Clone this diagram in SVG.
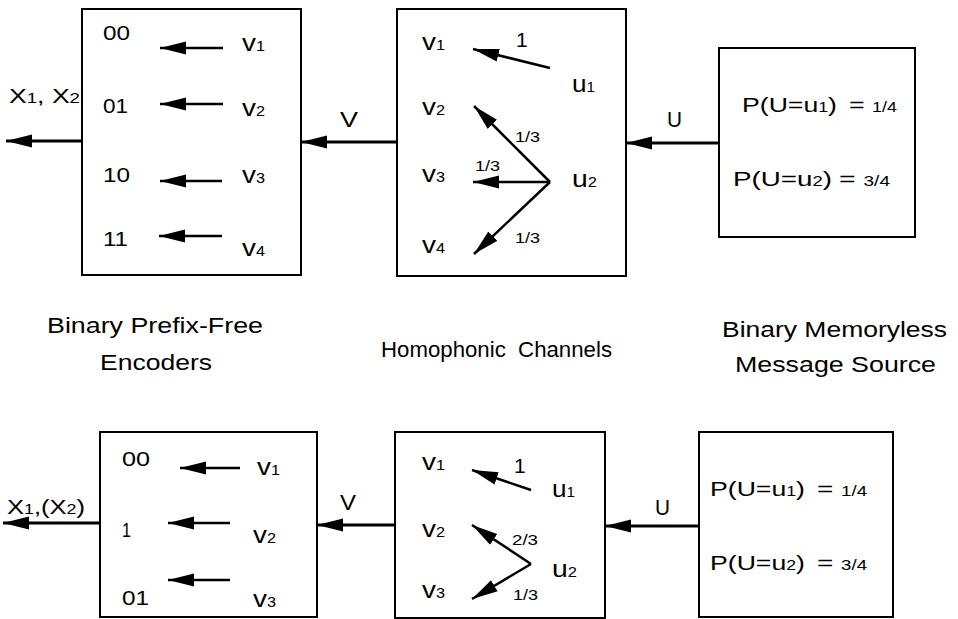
<svg xmlns="http://www.w3.org/2000/svg" width="958" height="619" viewBox="0 0 958 619">
<style>
.box{fill:#fff;stroke:#000;stroke-width:2}
.ar{stroke:#000;stroke-width:2.5;fill:none;marker-end:url(#ah)}
.cn{stroke:#000;stroke-width:3;fill:none;marker-end:url(#ah)}
text{font-family:"Liberation Sans",Arial,Helvetica,sans-serif;fill:#000}
.n{font-size:20px}
.v{font-size:24px}
.s{font-size:14px}
.one{font-size:21px}
.p{font-size:21px}
.lab{font-size:22px}
.big{font-size:22px}
</style>
<defs>
<marker id="ah" markerUnits="userSpaceOnUse" markerWidth="28" markerHeight="14" refX="26" refY="7" orient="auto">
<path d="M0,0.5 L26,7 L0,13.5 Z" fill="#000"/>
</marker>
</defs>
<rect width="958" height="619" fill="#fff"/>

<g id="encoder-top">
<rect class="box" x="82" y="9" width="219" height="266"/>
<text class="n" x="103" y="40" textLength="27" lengthAdjust="spacingAndGlyphs">00</text>
<text class="n" x="103" y="113" textLength="25" lengthAdjust="spacingAndGlyphs">01</text>
<text class="n" x="103" y="182" textLength="27" lengthAdjust="spacingAndGlyphs">10</text>
<text class="n" x="103" y="246" textLength="25" lengthAdjust="spacingAndGlyphs">11</text>
<text class="v" x="242" y="51" textLength="23" lengthAdjust="spacingAndGlyphs">v<tspan class="s">1</tspan></text>
<text class="v" x="242" y="116" textLength="23" lengthAdjust="spacingAndGlyphs">v<tspan class="s">2</tspan></text>
<text class="v" x="242" y="183" textLength="23" lengthAdjust="spacingAndGlyphs">v<tspan class="s">3</tspan></text>
<text class="v" x="242" y="256" textLength="23" lengthAdjust="spacingAndGlyphs">v<tspan class="s">4</tspan></text>
<line class="ar" x1="223" y1="48" x2="160" y2="48"/>
<line class="ar" x1="223" y1="104" x2="160" y2="104"/>
<line class="ar" x1="222" y1="181" x2="160" y2="181"/>
<line class="ar" x1="222" y1="236" x2="159" y2="236"/>
</g>

<g id="channel-top">
<rect class="box" x="397" y="9" width="229" height="267"/>
<text class="v" x="422" y="50" textLength="23" lengthAdjust="spacingAndGlyphs">v<tspan class="s">1</tspan></text>
<text class="v" x="422" y="115" textLength="23" lengthAdjust="spacingAndGlyphs">v<tspan class="s">2</tspan></text>
<text class="v" x="422" y="182" textLength="23" lengthAdjust="spacingAndGlyphs">v<tspan class="s">3</tspan></text>
<text class="v" x="422" y="253" textLength="23" lengthAdjust="spacingAndGlyphs">v<tspan class="s">4</tspan></text>
<text class="one" x="516" y="47">1</text>
<text class="v" x="572" y="92" textLength="23" lengthAdjust="spacingAndGlyphs">u<tspan class="s">1</tspan></text>
<text class="v" x="572" y="187" textLength="25" lengthAdjust="spacingAndGlyphs">u<tspan class="s">2</tspan></text>
<text class="s" x="515" y="142" textLength="25" lengthAdjust="spacingAndGlyphs">1/3</text>
<text class="s" x="475" y="171" textLength="25" lengthAdjust="spacingAndGlyphs">1/3</text>
<text class="s" x="515" y="243" textLength="25" lengthAdjust="spacingAndGlyphs">1/3</text>
<line class="ar" x1="550" y1="68" x2="473" y2="49"/>
<line class="ar" x1="550" y1="182" x2="474" y2="106"/>
<line class="ar" x1="550" y1="182" x2="473" y2="182"/>
<line class="ar" x1="550" y1="182" x2="474" y2="254"/>
</g>

<g id="source-top">
<rect class="box" x="719" y="48" width="196" height="189"/>
<text class="p" x="742" y="112" textLength="95" lengthAdjust="spacingAndGlyphs">P(U=u<tspan class="s">1</tspan>)</text>
<text class="p" x="849" y="112" textLength="48" lengthAdjust="spacingAndGlyphs">= <tspan class="s">1/4</tspan></text>
<text class="p" x="733" y="186" textLength="99" lengthAdjust="spacingAndGlyphs">P(U=u<tspan class="s">2</tspan>)</text>
<text class="p" x="839" y="186" textLength="51" lengthAdjust="spacingAndGlyphs">= <tspan class="s">3/4</tspan></text>
</g>

<g id="encoder-bottom">
<rect class="box" x="100" y="432" width="217" height="185"/>
<text class="n" x="122" y="466" textLength="28" lengthAdjust="spacingAndGlyphs">00</text>
<text class="n" x="122" y="537" textLength="9" lengthAdjust="spacingAndGlyphs">1</text>
<text class="n" x="122" y="605" textLength="27" lengthAdjust="spacingAndGlyphs">01</text>
<text class="v" x="257" y="475" textLength="23" lengthAdjust="spacingAndGlyphs">v<tspan class="s">1</tspan></text>
<text class="v" x="253" y="543" textLength="23" lengthAdjust="spacingAndGlyphs">v<tspan class="s">2</tspan></text>
<text class="v" x="253" y="607" textLength="23" lengthAdjust="spacingAndGlyphs">v<tspan class="s">3</tspan></text>
<line class="ar" x1="240" y1="468" x2="180" y2="468"/>
<line class="ar" x1="230" y1="523" x2="168" y2="523"/>
<line class="ar" x1="230" y1="580" x2="168" y2="580"/>
</g>

<g id="channel-bottom">
<rect class="box" x="395" y="432" width="210" height="186"/>
<text class="v" x="422" y="470" textLength="23" lengthAdjust="spacingAndGlyphs">v<tspan class="s">1</tspan></text>
<text class="v" x="422" y="537" textLength="23" lengthAdjust="spacingAndGlyphs">v<tspan class="s">2</tspan></text>
<text class="v" x="422" y="598" textLength="23" lengthAdjust="spacingAndGlyphs">v<tspan class="s">3</tspan></text>
<text class="one" x="514" y="473">1</text>
<text class="v" x="552" y="497" textLength="23" lengthAdjust="spacingAndGlyphs">u<tspan class="s">1</tspan></text>
<text class="v" x="552" y="577" textLength="25" lengthAdjust="spacingAndGlyphs">u<tspan class="s">2</tspan></text>
<text class="s" x="512" y="545" textLength="26" lengthAdjust="spacingAndGlyphs">2/3</text>
<text class="s" x="513" y="600" textLength="25" lengthAdjust="spacingAndGlyphs">1/3</text>
<line class="ar" x1="531" y1="490" x2="472" y2="470"/>
<line class="ar" x1="531" y1="564" x2="472" y2="525"/>
<line class="ar" x1="531" y1="564" x2="472" y2="599"/>
</g>

<g id="source-bottom">
<rect class="box" x="699" y="432" width="194" height="185"/>
<text class="p" x="710" y="496" textLength="95" lengthAdjust="spacingAndGlyphs">P(U=u<tspan class="s">1</tspan>)</text>
<text class="p" x="817" y="496" textLength="50" lengthAdjust="spacingAndGlyphs">= <tspan class="s">1/4</tspan></text>
<text class="p" x="710" y="570" textLength="95" lengthAdjust="spacingAndGlyphs">P(U=u<tspan class="s">2</tspan>)</text>
<text class="p" x="817" y="570" textLength="50" lengthAdjust="spacingAndGlyphs">= <tspan class="s">3/4</tspan></text>
</g>

<g id="connectors">
<line class="cn" x1="82" y1="141" x2="6" y2="141"/>
<line class="cn" x1="397" y1="142" x2="301" y2="142"/>
<line class="cn" x1="719" y1="143" x2="626" y2="143"/>
<line class="cn" x1="100" y1="523" x2="3" y2="523"/>
<line class="cn" x1="395" y1="525" x2="317" y2="525"/>
<line class="cn" x1="699" y1="526" x2="605" y2="526"/>
<text class="n" x="9" y="103" textLength="71" lengthAdjust="spacingAndGlyphs">X<tspan class="s">1</tspan>, X<tspan class="s">2</tspan></text>
<text class="big" x="340" y="127" textLength="18" lengthAdjust="spacingAndGlyphs">V</text>
<text class="big" x="667" y="127" textLength="15" lengthAdjust="spacingAndGlyphs">U</text>
<text class="n" x="7" y="514" textLength="78" lengthAdjust="spacingAndGlyphs">X<tspan class="s">1</tspan>,(X<tspan class="s">2</tspan>)</text>
<text class="big" x="340" y="510" textLength="16" lengthAdjust="spacingAndGlyphs">V</text>
<text class="big" x="655" y="515" textLength="15" lengthAdjust="spacingAndGlyphs">U</text>
</g>

<g id="labels">
<text class="lab" x="47" y="333" textLength="216" lengthAdjust="spacingAndGlyphs">Binary Prefix-Free</text>
<text class="lab" x="100" y="370" textLength="112" lengthAdjust="spacingAndGlyphs">Encoders</text>
<text class="lab" x="381" y="357" textLength="231" lengthAdjust="spacingAndGlyphs" xml:space="preserve">Homophonic  Channels</text>
<text class="lab" x="722" y="337" textLength="225" lengthAdjust="spacingAndGlyphs">Binary Memoryless</text>
<text class="lab" x="735" y="372" textLength="201" lengthAdjust="spacingAndGlyphs">Message Source</text>
</g>
</svg>
